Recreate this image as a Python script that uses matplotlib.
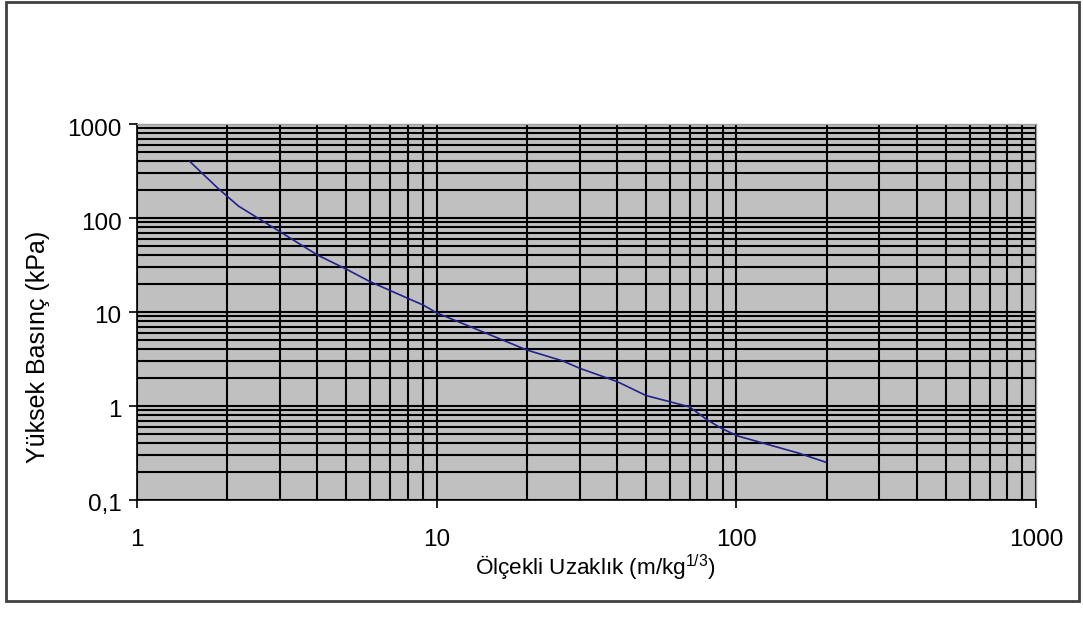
import matplotlib
matplotlib.use('Agg')
import matplotlib.pyplot as plt
from matplotlib.patches import Rectangle
from matplotlib.transforms import ScaledTranslation
from matplotlib.ticker import LogLocator, FixedLocator, FixedFormatter, NullFormatter

plt.rcParams['font.family'] = ['Liberation Sans', 'DejaVu Sans']
plt.rcParams['mathtext.fontset'] = 'custom'
plt.rcParams['mathtext.rm'] = 'Liberation Sans'
plt.rcParams['mathtext.it'] = 'Liberation Sans'

# olcekli uzaklik (m/kg^1/3) ve yuksek basinc (kPa)
uzaklik = [1.5, 1.86, 2.18, 3, 4, 5, 6, 7, 8, 9, 10, 20, 26.4, 30, 40, 50, 60, 69.7, 80, 90, 101, 162, 199]
basinc = [400, 208, 134, 71.5, 40.4, 28.5, 21, 16.9, 14.0, 11.9, 9.8, 3.94, 3.01, 2.52, 1.82, 1.29, 1.11, 0.98, 0.71, 0.57, 0.48, 0.314, 0.252]

x_ticks = [1, 10, 100, 1000]
x_labels = ['1', '10', '100', '1000']
y_ticks = [0.1, 1, 10, 100, 1000]
y_labels = ['0,1', '1', '10', '100', '1000']

fig = plt.figure(figsize=(10.83, 6.26), dpi=100)
ax = fig.add_axes([0.1265, 0.2013, 0.8301, 0.6006])
ax.set_facecolor('#c0c0c0')

ax.plot(uzaklik, basinc, color='#22228c', lw=1.2, zorder=3)

ax.set_xscale('log')
ax.set_yscale('log')
ax.set_xlim(1, 1000)
ax.set_ylim(0.1, 1000)

ax.xaxis.set_major_locator(FixedLocator(x_ticks))
ax.xaxis.set_major_formatter(FixedFormatter(x_labels))
ax.yaxis.set_major_locator(FixedLocator(y_ticks))
ax.yaxis.set_major_formatter(FixedFormatter(y_labels))
ax.xaxis.set_minor_locator(LogLocator(base=10, subs=range(2, 10), numticks=20))
ax.yaxis.set_minor_locator(LogLocator(base=10, subs=range(2, 10), numticks=20))
ax.xaxis.set_minor_formatter(NullFormatter())
ax.yaxis.set_minor_formatter(NullFormatter())

ax.grid(True, which='both', color='black', lw=1.5, zorder=1)
ax.set_axisbelow(True)

ax.tick_params(which='major', direction='out', length=6, width=1.2, color='black',
               labelsize=17.5, pad=15)
ax.tick_params(axis='y', which='major', pad=5)
ax.tick_params(which='minor', length=0)

for lbl in ax.get_yticklabels():
    lbl.set_transform(lbl.get_transform() + ScaledTranslation(0, -3 / 100, fig.dpi_scale_trans))

for s in ['top', 'right']:
    ax.spines[s].set_color('#a0a0a0')
    ax.spines[s].set_linewidth(1.0)
for s in ['left', 'bottom']:
    ax.spines[s].set_color('black')
    ax.spines[s].set_linewidth(1.2)

ax.set_xlabel(r'Ölçekli Uzaklık (m/kg$^{1/3}$)', fontsize=16.2)
ax.set_ylabel('Yüksek Basınç (kPa)', fontsize=18)
ax.xaxis.set_label_coords(0.51, -0.141)
ax.yaxis.set_label_coords(-0.0968, 0.407)

fig.patches.append(Rectangle((0.0055, 0.04), 0.9908, 0.957, transform=fig.transFigure,
                             fill=False, edgecolor='#404040', lw=2))

fig.savefig('out.png', dpi=100)
